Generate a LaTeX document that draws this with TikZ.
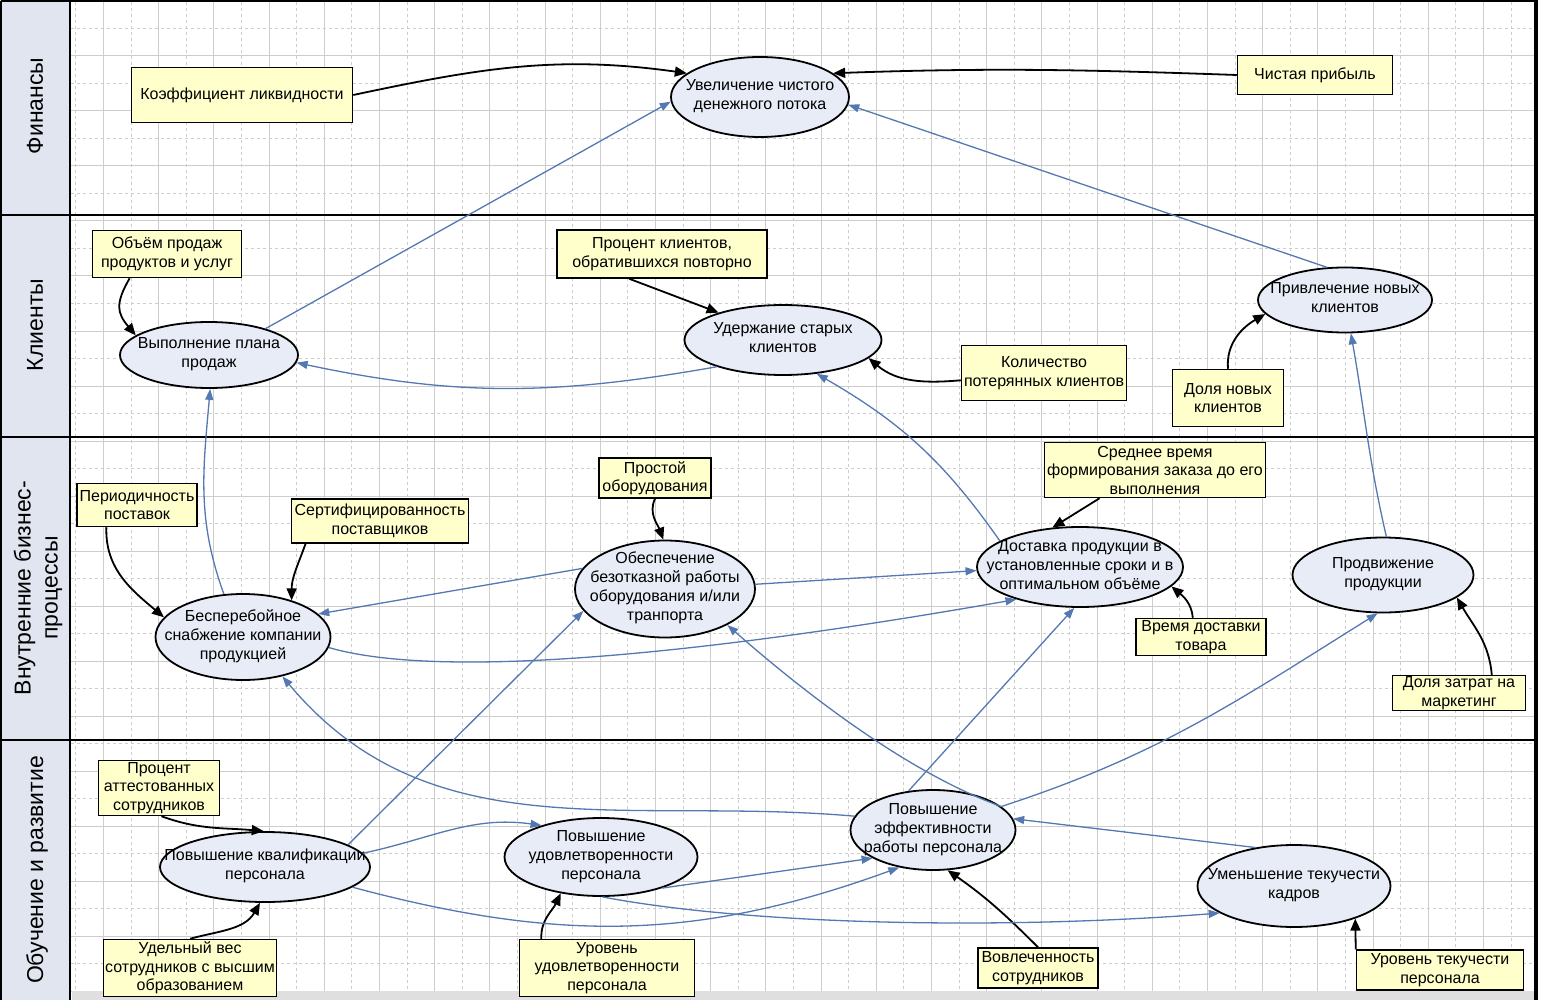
\documentclass[tikz,border=0pt]{standalone}
\usepackage{fontspec}
\setmainfont{Liberation Sans}
\usepackage{xcolor}
\usepackage{tikz}
\usetikzlibrary{arrows.meta,shapes.geometric}

\definecolor{goalfill}{RGB}{231,236,246}
\definecolor{kpifill}{RGB}{255,255,204}
\definecolor{linkblue}{RGB}{84,120,178}
\definecolor{lanefill}{RGB}{224,229,240}
\definecolor{gridgray}{RGB}{205,205,205}

% text of an ellipse, kept out of the shape size
\newcommand{\goaltext}[1]{\smash{\raisebox{-4pt}{\makebox[0pt]{\begin{tabular}{@{}c@{}}#1\end{tabular}}}}}

\begin{document}
\begin{tikzpicture}[x=1pt, y=-1pt,
	every node/.style={font=\fontsize{16}{19}\selectfont},
	goal/.style={ellipse, draw, line width=1.8pt, fill=goalfill, inner sep=0pt},
	kpi/.style={rectangle, draw, line width=1.5pt, fill=kpifill, align=center, inner sep=1pt, font=\fontsize{16}{18.5}\selectfont},
	lane/.style={rotate=90, align=center, font=\fontsize{23}{27}\selectfont},
	gridline/.style={gridgray, line width=0.6pt},
	mlink/.style={-{Triangle[length=12pt,width=10pt]}, line width=1.8pt},
	glink/.style={-{Triangle[length=11pt,width=8pt]}, linkblue, line width=1.3pt}]
	\useasboundingbox (0,0) rectangle (1542,1000);
	% background
	\fill[lanefill] (0,0) rectangle (70,1000);
	\foreach \i in {0,...,52} {
		\pgfmathsetmacro{\gx}{75.6+27.6*\i}
		\ifodd\i \draw[gridline] (\gx,2) -- (\gx,995); \else \draw[gridline, dashed] (\gx,2) -- (\gx,995); \fi
	}
	\foreach \i in {0,...,35} {
		\pgfmathsetmacro{\gy}{28.3+27.5*\i}
		\ifodd\i \draw[gridline] (71,\gy) -- (1534,\gy); \else \draw[gridline, dashed] (71,\gy) -- (1534,\gy); \fi
	}
	\fill[gray!25] (72,991) rectangle (1534,1000);
	% lanes
	\draw[line width=2pt] (0,215) -- (1536,215);
	\draw[line width=2pt] (0,437) -- (1536,437);
	\draw[line width=2pt] (0,740) -- (1536,740);
	\draw[line width=2pt] (70,0) -- (70,1000);
	\draw[line width=2pt] (1,1) -- (1536,1) (1,1) -- (1,1000);
	\draw[line width=3.5pt] (1536,0) -- (1536,1000);
	\node[lane] (finl) at (35,106) {Финансы};
	\node[lane] (clil) at (35,325) {Клиенты};
	\node[lane] (bpl) at (38,588) {Внутренние бизнес-\\процессы};
	\node[lane] (lrnl) at (37,870) {Обучение и развитие};

	% finance
	\node[goal, minimum width=178pt, minimum height=80pt] (e1) at (760,97) {\goaltext{Увеличение чистого\\денежного потока}};
	\node[kpi, minimum width=221pt, minimum height=55pt] (b1) at (242,95) {Коэффициент ликвидности};
	\node[kpi, minimum width=155pt, minimum height=39pt] (b2) at (1315,75) {Чистая прибыль};
	% customers
	\node[goal, minimum width=178pt, minimum height=66pt] (e2) at (209,355) {\goaltext{Выполнение плана\\продаж}};
	\node[goal, minimum width=197pt, minimum height=70pt] (e3) at (783,340) {\goaltext{Удержание старых\\клиентов}};
	\node[goal, minimum width=174pt, minimum height=65pt] (e4) at (1345,300) {\goaltext{Привлечение новых\\клиентов}};
	\node[kpi, minimum width=149pt, minimum height=47pt] (b3) at (167,254) {Объём продаж\\продуктов и услуг};
	\node[kpi, minimum width=210pt, minimum height=48pt] (b4) at (662,254) {Процент клиентов,\\обратившихся повторно};
	\node[kpi, minimum width=165pt, minimum height=55pt] (b5) at (1044,373) {Количество\\потерянных клиентов};
	\node[kpi, minimum width=111pt, minimum height=57pt] (b6) at (1228,398) {Доля новых\\клиентов};
	% internal processes
	\node[goal, minimum width=175pt, minimum height=86pt] (e5) at (243,637) {\goaltext{Бесперебойное\\снабжение компании\\продукцией}};
	\node[goal, minimum width=180pt, minimum height=97pt] (e6) at (665,589) {\goaltext{Обеспечение\\безотказной работы\\оборудования и/или\\транпорта}};
	\node[goal, minimum width=206pt, minimum height=80pt] (e7) at (1080,567) {\goaltext{Доставка продукции в\\установленные сроки и в\\оптимальном объёме}};
	\node[goal, minimum width=181pt, minimum height=75pt] (e8) at (1383,575) {\goaltext{Продвижение\\продукции}};
	\node[kpi, minimum width=120pt, minimum height=43pt] (b7) at (137,505) {Периодичность\\поставок};
	\node[kpi, minimum width=177pt, minimum height=44pt] (b8) at (380,521) {Сертифицированность\\поставщиков};
	\node[kpi, minimum width=112pt, minimum height=40pt] (b9) at (655,478) {Простой\\оборудования};
	\node[kpi, minimum width=221pt, minimum height=55pt] (b10) at (1155,470) {Среднее время\\формирования заказа до его\\выполнения};
	\node[kpi, minimum width=130pt, minimum height=37pt] (b11) at (1201,637) {Время доставки\\товара};
	\node[kpi, minimum width=133pt, minimum height=34pt] (b12) at (1459,693) {Доля затрат на\\маркетинг};
	% learning
	\node[goal, minimum width=210pt, minimum height=70pt] (e9) at (265,867) {\goaltext{Повышение квалификации\\персонала}};
	\node[goal, minimum width=193pt, minimum height=78pt] (e10) at (601,857) {\goaltext{Повышение\\удовлетворенности\\персонала}};
	\node[goal, minimum width=165pt, minimum height=80pt] (e11) at (933,830) {\goaltext{Повышение\\эффективности\\работы персонала}};
	\node[goal, minimum width=193pt, minimum height=82pt] (e12) at (1294,886) {\goaltext{Уменьшение текучести\\кадров}};
	\node[kpi, minimum width=121pt, minimum height=55pt] (b13) at (159,788) {Процент\\аттестованных\\сотрудников};
	\node[kpi, minimum width=173pt, minimum height=57pt] (b14) at (190,968) {Удельный вес\\сотрудников с высшим\\образованием};
	\node[kpi, minimum width=175pt, minimum height=57pt] (b15) at (607,968) {Уровень\\удовлетворенности\\персонала};
	\node[kpi, minimum width=120pt, minimum height=40pt] (b16) at (1038,968) {Вовлеченность\\сотрудников};
	\node[kpi, minimum width=167pt, minimum height=40pt] (b17) at (1440,970) {Уровень текучести\\персонала};

	% measures
	\draw[mlink] (b1.east) to[out=12,in=172] (e1.162);
	\draw[mlink] (b2.west) to[out=178,in=2] (e1.18);
	\draw[mlink] (b3.213) to[out=240,in=130,looseness=1.3] (e2.165);
	\draw[mlink] (b4.217) -- (e3.157);
	\draw[mlink] (b5.185) to[out=185,in=-40] (e3.-12);
	\draw[mlink] (b6.north) to[out=95,in=210] (e4.190);
	\draw[mlink] (b7.216) to[out=268,in=140] (e5.166);
	\draw[mlink] (b8.197) to[out=250,in=90] (e5.37);
	\draw[mlink] (b9.south) to[out=245,in=110] (e6.92);
	\draw[mlink] (b10.207) -- (e7.125);
	\draw[mlink] (b11.113) to[out=95,in=-40] (e7.-12);
	\draw[mlink] (b12.29) to[out=95,in=-60] (e8.-17);
	\draw[mlink] (b13.-85) to[out=-20,in=175] (e9.92);
	\draw[mlink] (b14.north) to[out=15,in=-120] (e9.-98);
	\draw[mlink] (b15.156) to[out=92,in=-115] (e10.-138);
	\draw[mlink] (b16.north) to[out=135,in=-35] (e11.-70);
	\draw[mlink] (b17.north west) -- (e12.-28);

	% goal links
	\draw[glink] (e2.25) -- (e1.183);
	\draw[glink] (e4.119) -- (e1.-5);
	\draw[glink] (e3.202) to[out=190,in=-12] (e2.-5);
	\draw[glink] (e5.114) to[out=110,in=-95] (e2.-88);
	\draw[glink] (e7.162) to[out=125,in=-30] (e3.-45);
	\draw[glink] (e8.85) to[out=103,in=-80] (e4.-80);
	\draw[glink] (e6.166) -- (e5.17);
	\draw[glink] (e6.3) -- (e7.182);
	\draw[glink] (e5.-7) .. controls (440,680) and (700,655) .. (e7.207);
	\draw[glink] (e9.15) -- (e6.195);
	\draw[glink] (e11.122) -- (e7.-98);
	\draw[glink] (e11.19) to[out=18,in=212] (e8.-98);
	\draw[glink] (e11.19) .. controls (900,770) and (790,680) .. (e6.-30);
	\draw[glink] (e11.170) to[out=175,in=-50] (e5.-45);
	\draw[glink] (e9.8) to[out=12,in=172] (e10.152);
	\draw[glink] (e9.-13) to[out=-15,in=200] (e11.-132);
	\draw[glink] (e10.-27) -- (e11.205);
	\draw[glink] (e10.-88) .. controls (750,925) and (1000,930) .. (e12.200);
	\draw[glink] (e12.135) -- (e11.8);
\end{tikzpicture}
\end{document}
